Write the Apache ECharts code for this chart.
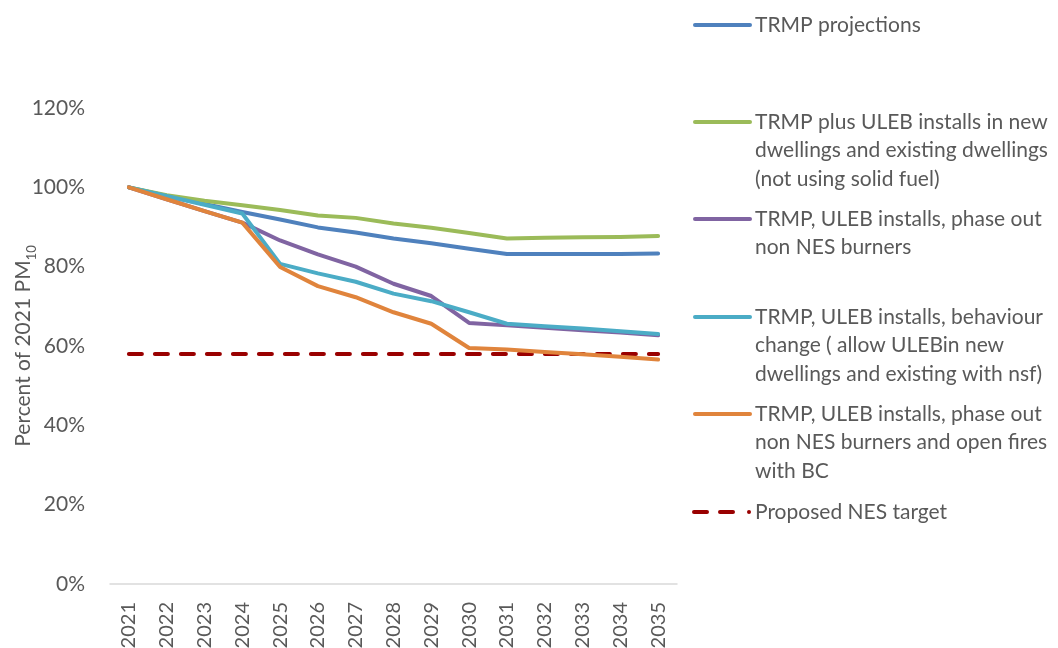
<!DOCTYPE html>
<html>
<head>
<meta charset="utf-8">
<script src="https://cdn.jsdelivr.net/npm/echarts@6/dist/echarts.min.js"></script>
<style>
  html, body { margin: 0; padding: 0; background: #fff; }
  #chart { width: 1058px; height: 648px; }
</style>
</head>
<body>
<div id="chart"></div>
<script>
// Years on the category axis
const years = ['2021', '2022', '2023', '2024', '2025', '2026', '2027', '2028',
  '2029', '2030', '2031', '2032', '2033', '2034', '2035'];

// Percent of 2021 PM10 for each scenario
const trmpProjections = [100, 97.8, 95.8, 93.8, 91.9, 89.9, 88.6, 87.1, 85.9, 84.5, 83.2, 83.2, 83.2, 83.2, 83.3];
const trmpPlusUleb = [100, 98.0, 96.6, 95.5, 94.3, 92.9, 92.3, 90.9, 89.8, 88.5, 87.1, 87.3, 87.4, 87.5, 87.7];
const phaseOutBurners = [100, 97.0, 94.0, 91.1, 86.6, 83.1, 80.0, 75.7, 72.6, 65.8, 65.2, 64.6, 64.0, 63.4, 62.7];
const behaviourChange = [100, 97.8, 95.6, 93.4, 80.7, 78.3, 76.2, 73.2, 71.3, 68.5, 65.6, 65.0, 64.4, 63.7, 63.0];
const phaseOutOpenFires = [100, 97.0, 94.0, 91.1, 79.9, 75.1, 72.3, 68.5, 65.6, 59.5, 59.1, 58.5, 57.9, 57.3, 56.6];
const nesTarget = [58, 58, 58, 58, 58, 58, 58, 58, 58, 58, 58, 58, 58, 58, 58];

const yTicks = { min: 0, max: 120, interval: 20 };

const seriesNames = [
  'TRMP projections',
  'TRMP plus ULEB installs in new\ndwellings and existing dwellings\n(not using solid fuel)',
  'TRMP, ULEB installs, phase out\nnon NES burners',
  'TRMP, ULEB installs, behaviour\nchange ( allow ULEBin new\ndwellings and existing with nsf)',
  'TRMP, ULEB installs, phase out\nnon NES burners and open fires\nwith BC',
  'Proposed NES target'
];
const seriesData = [trmpProjections, trmpPlusUleb, phaseOutBurners, behaviourChange, phaseOutOpenFires, nesTarget];
const colors = ['#4F81BD', '#9BBB59', '#8064A2', '#4BACC6', '#E0843C', '#990000'];

const textColor = '#595959';
const fontFamily = 'Lato, "Open Sans", sans-serif';

const chart = echarts.init(document.getElementById('chart'), null, { renderer: 'canvas' });

const series = seriesData.map((d, i) => ({
  name: seriesNames[i],
  type: 'line',
  data: d,
  symbol: 'none',
  silent: true,
  z: i === 5 ? 1 : 2 + i,
  lineStyle: i === 5
    ? { color: colors[i], width: 4, type: [13, 13], cap: 'round' }
    : { color: colors[i], width: 4, cap: 'round', join: 'round' }
}));

// Legend drawn at the right: a short line sample followed by the wrapped label
const legendTop = [25, 122, 219, 317, 414, 512];
const legendGraphics = [];
seriesNames.forEach((name, i) => {
  const y = legendTop[i];
  if (i === 5) {
    legendGraphics.push({
      type: 'line', shape: { x1: 694, y1: y, x2: 740, y2: y },
      style: { stroke: colors[i], lineWidth: 4, lineDash: [13, 13], lineCap: 'round' }
    });
    legendGraphics.push({
      type: 'circle', shape: { cx: 749, cy: y, r: 2 },
      style: { fill: colors[i] }
    });
  } else {
    legendGraphics.push({
      type: 'line', shape: { x1: 695, y1: y, x2: 750, y2: y },
      style: { stroke: colors[i], lineWidth: 4, lineCap: 'round' }
    });
  }
  legendGraphics.push({
    type: 'text', x: 755, y: y - 14.5,
    style: {
      text: name, fill: textColor, font: '21px ' + fontFamily,
      lineHeight: 28.5, verticalAlign: 'top', align: 'left'
    }
  });
});

chart.setOption({
  animation: false,
  backgroundColor: '#fff',
  textStyle: { fontFamily: fontFamily },
  grid: { left: 110, right: 381, top: 108, bottom: 64, outerBoundsMode: 'none', containLabel: false },
  xAxis: {
    type: 'category',
    data: years,
    boundaryGap: true,
    axisLine: { lineStyle: { color: '#D9D9D9', width: 1.5 } },
    axisTick: { show: false },
    axisLabel: { rotate: 90, color: textColor, fontSize: 20, margin: 18, fontFamily: fontFamily },
    splitLine: { show: false }
  },
  yAxis: {
    type: 'value',
    min: yTicks.min, max: yTicks.max, interval: yTicks.interval,
    axisLine: { show: false },
    axisTick: { show: false },
    splitLine: { show: false },
    axisLabel: { formatter: '{value}%', color: textColor, fontSize: 21, margin: 25, fontFamily: fontFamily },
    name: '{a|Percent of 2021 PM}{s|10}',
    nameLocation: 'middle',
    nameRotate: 90,
    nameGap: 76,
    nameMoveOverlap: false,
    nameTextStyle: {
      rich: {
        a: { fontSize: 21, color: textColor, fontFamily: fontFamily, lineHeight: 26, verticalAlign: 'bottom' },
        s: { fontSize: 13, color: textColor, fontFamily: fontFamily, lineHeight: 16, verticalAlign: 'bottom', padding: [0, 0, -4, 0] }
      }
    }
  },
  series: series,
  graphic: legendGraphics
});
</script>
</body>
</html>
